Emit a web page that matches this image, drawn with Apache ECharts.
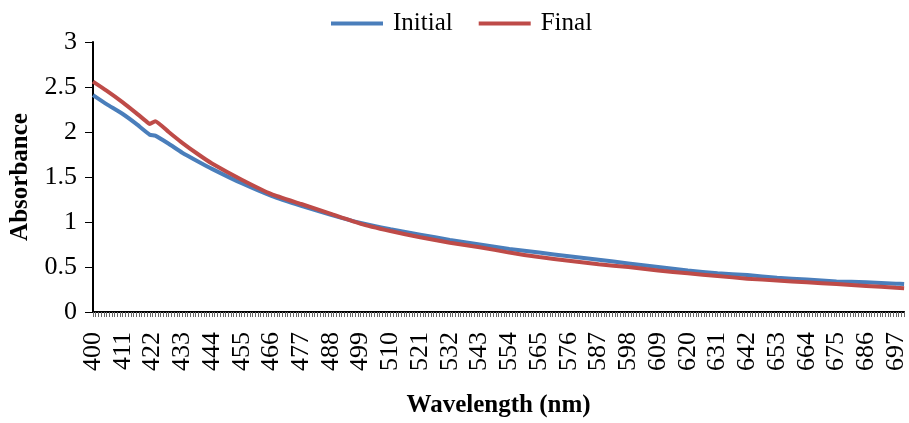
<!DOCTYPE html>
<html>
<head>
<meta charset="utf-8">
<script src="https://cdn.jsdelivr.net/npm/echarts@6/dist/echarts.min.js"></script>
<style>
html,body{margin:0;padding:0;background:#fff;}
#chart{width:909px;height:423px;}
</style>
</head>
<body>
<div id="chart"></div>
<script>
// Category axis: every wavelength from 400 to 700 nm
var categories = [];
for (var w = 400; w <= 700; w++) categories.push(String(w));

var initialWl = [400, 405, 411, 416, 421, 423, 428, 433, 439, 444, 455, 466, 477, 488, 499, 510, 521, 532, 543, 554, 565, 576, 587, 598, 609, 620, 631, 642, 653, 664, 675, 686, 697, 700];
var initialAbs = [2.41, 2.31, 2.20, 2.09, 1.97, 1.96, 1.87, 1.77, 1.67, 1.59, 1.43, 1.29, 1.18, 1.08, 0.99, 0.92, 0.86, 0.80, 0.75, 0.70, 0.66, 0.62, 0.58, 0.54, 0.50, 0.46, 0.43, 0.41, 0.38, 0.36, 0.34, 0.33, 0.315, 0.31];

var finalWl = [400, 405, 411, 416, 420, 421, 423, 428, 433, 439, 444, 455, 466, 477, 488, 499, 510, 521, 532, 543, 554, 565, 576, 587, 598, 609, 620, 631, 642, 653, 664, 675, 686, 697, 700];
var finalAbs = [2.56, 2.46, 2.33, 2.21, 2.11, 2.09, 2.12, 2.00, 1.88, 1.75, 1.65, 1.47, 1.31, 1.20, 1.09, 0.98, 0.90, 0.83, 0.77, 0.72, 0.66, 0.61, 0.57, 0.53, 0.50, 0.46, 0.43, 0.40, 0.37, 0.35, 0.33, 0.31, 0.29, 0.27, 0.265];

function pairs(xs, ys) {
  return xs.map(function (x, i) { return [String(x), ys[i]]; });
}

var serif = '"Liberation Serif", "Times New Roman", serif';
var chart = echarts.init(document.getElementById('chart'));
chart.setOption({
  animation: false,
  backgroundColor: '#fff',
  legend: {
    top: 6,
    left: 326,
    itemWidth: 52,
    itemHeight: 4,
    itemGap: 26,
    icon: 'rect',
    textStyle: { fontFamily: serif, fontSize: 25, color: '#000', padding: [0, 0, 0, 5] },
    data: ['Initial', 'Final']
  },
  grid: { left: 92, right: 1, top: 42, bottom: 105, containLabel: false },
  xAxis: {
    type: 'category',
    data: categories,
    boundaryGap: false,
    name: 'Wavelength (nm)',
    nameLocation: 'middle',
    nameGap: 81,
    nameTextStyle: { fontFamily: serif, fontSize: 25, fontWeight: 'bold', color: '#000' },
    axisLine: { lineStyle: { color: '#000', width: 2 } },
    axisTick: { show: true, interval: 0, length: 5, lineStyle: { color: '#666', width: 1 } },
    axisLabel: { interval: 10, rotate: 90, margin: 20, fontFamily: serif, fontSize: 26, color: '#000' },
    splitLine: { show: false }
  },
  yAxis: {
    type: 'value',
    min: 0,
    max: 3,
    interval: 0.5,
    name: 'Absorbance',
    nameLocation: 'middle',
    nameGap: 60,
    nameTextStyle: { fontFamily: serif, fontSize: 25, fontWeight: 'bold', color: '#000' },
    axisLine: { show: true, lineStyle: { color: '#000', width: 2 } },
    axisTick: { show: true, length: 8, lineStyle: { color: '#000', width: 1 } },
    axisLabel: { margin: 16, fontFamily: serif, fontSize: 26, color: '#000' },
    splitLine: { show: false }
  },
  series: [
    {
      name: 'Initial', type: 'line', showSymbol: false, symbol: 'none', smooth: 0.15,
      color: '#4a7ebb',
      lineStyle: { color: '#4a7ebb', width: 4 },
      data: pairs(initialWl, initialAbs)
    },
    {
      name: 'Final', type: 'line', showSymbol: false, symbol: 'none', smooth: 0.15,
      color: '#be4b48',
      lineStyle: { color: '#be4b48', width: 4 },
      data: pairs(finalWl, finalAbs)
    }
  ]
});
</script>
</body>
</html>
